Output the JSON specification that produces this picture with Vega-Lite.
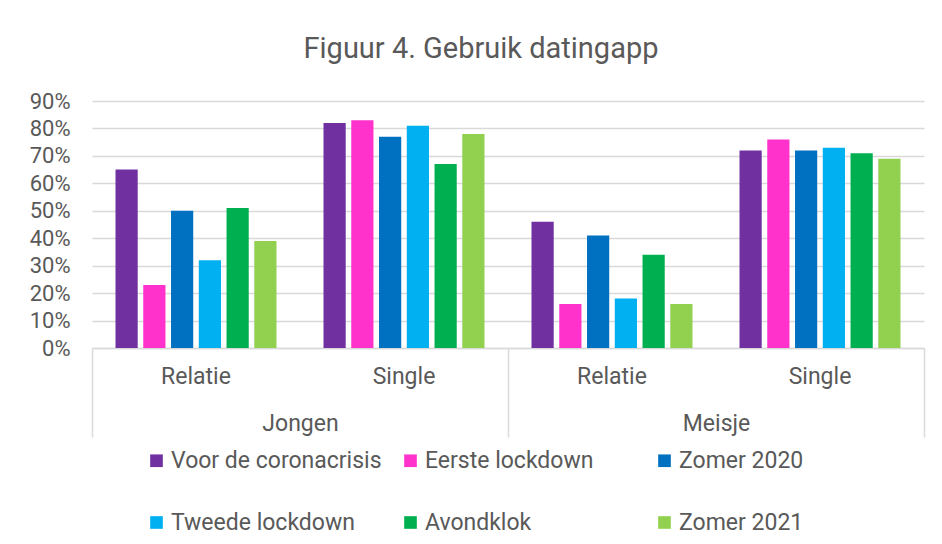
{
  "$schema": "https://vega.github.io/schema/vega-lite/v6.json",
  "width": 832,
  "height": 247,
  "autosize": {"type": "none"},
  "padding": {"left": 92, "top": 101, "right": 18, "bottom": 196},
  "background": "white",
  "config": {"font": "Roboto", "view": {"stroke": null}},
  "title": {"text": "Figuur 4. Gebruik datingapp", "fontSize": 29, "fontWeight": "normal", "color": "#595959", "anchor": "middle", "dx": -27, "offset": 26, "font": "Roboto"},
  "data": {"values": [
    {"cat": "Jongen|Relatie", "geslacht": "Jongen", "relatie": "Relatie", "periode": "Voor de coronacrisis", "waarde": 0.65},
    {"cat": "Jongen|Relatie", "geslacht": "Jongen", "relatie": "Relatie", "periode": "Eerste lockdown", "waarde": 0.23},
    {"cat": "Jongen|Relatie", "geslacht": "Jongen", "relatie": "Relatie", "periode": "Zomer 2020", "waarde": 0.50},
    {"cat": "Jongen|Relatie", "geslacht": "Jongen", "relatie": "Relatie", "periode": "Tweede lockdown", "waarde": 0.32},
    {"cat": "Jongen|Relatie", "geslacht": "Jongen", "relatie": "Relatie", "periode": "Avondklok", "waarde": 0.51},
    {"cat": "Jongen|Relatie", "geslacht": "Jongen", "relatie": "Relatie", "periode": "Zomer 2021", "waarde": 0.39},
    {"cat": "Jongen|Single", "geslacht": "Jongen", "relatie": "Single", "periode": "Voor de coronacrisis", "waarde": 0.82},
    {"cat": "Jongen|Single", "geslacht": "Jongen", "relatie": "Single", "periode": "Eerste lockdown", "waarde": 0.83},
    {"cat": "Jongen|Single", "geslacht": "Jongen", "relatie": "Single", "periode": "Zomer 2020", "waarde": 0.77},
    {"cat": "Jongen|Single", "geslacht": "Jongen", "relatie": "Single", "periode": "Tweede lockdown", "waarde": 0.81},
    {"cat": "Jongen|Single", "geslacht": "Jongen", "relatie": "Single", "periode": "Avondklok", "waarde": 0.67},
    {"cat": "Jongen|Single", "geslacht": "Jongen", "relatie": "Single", "periode": "Zomer 2021", "waarde": 0.78},
    {"cat": "Meisje|Relatie", "geslacht": "Meisje", "relatie": "Relatie", "periode": "Voor de coronacrisis", "waarde": 0.46},
    {"cat": "Meisje|Relatie", "geslacht": "Meisje", "relatie": "Relatie", "periode": "Eerste lockdown", "waarde": 0.16},
    {"cat": "Meisje|Relatie", "geslacht": "Meisje", "relatie": "Relatie", "periode": "Zomer 2020", "waarde": 0.41},
    {"cat": "Meisje|Relatie", "geslacht": "Meisje", "relatie": "Relatie", "periode": "Tweede lockdown", "waarde": 0.18},
    {"cat": "Meisje|Relatie", "geslacht": "Meisje", "relatie": "Relatie", "periode": "Avondklok", "waarde": 0.34},
    {"cat": "Meisje|Relatie", "geslacht": "Meisje", "relatie": "Relatie", "periode": "Zomer 2021", "waarde": 0.16},
    {"cat": "Meisje|Single", "geslacht": "Meisje", "relatie": "Single", "periode": "Voor de coronacrisis", "waarde": 0.72},
    {"cat": "Meisje|Single", "geslacht": "Meisje", "relatie": "Single", "periode": "Eerste lockdown", "waarde": 0.76},
    {"cat": "Meisje|Single", "geslacht": "Meisje", "relatie": "Single", "periode": "Zomer 2020", "waarde": 0.72},
    {"cat": "Meisje|Single", "geslacht": "Meisje", "relatie": "Single", "periode": "Tweede lockdown", "waarde": 0.73},
    {"cat": "Meisje|Single", "geslacht": "Meisje", "relatie": "Single", "periode": "Avondklok", "waarde": 0.71},
    {"cat": "Meisje|Single", "geslacht": "Meisje", "relatie": "Single", "periode": "Zomer 2021", "waarde": 0.69}
  ]},
  "layer": [
    {
      "mark": {"type": "bar"},
      "encoding": {
        "x": {"field": "cat", "type": "nominal", "sort": ["Jongen|Relatie", "Jongen|Single", "Meisje|Relatie", "Meisje|Single"],
          "scale": {"paddingInner": 0.226, "paddingOuter": 0.113},
          "axis": {"title": null, "labelExpr": "split(datum.label, '|')[1]", "ticks": false, "domainColor": "#d9d9d9", "domainWidth": 1.5, "labelFontSize": 23, "labelColor": "#595959", "labelPadding": 17, "labelAngle": 0}},
        "xOffset": {"field": "periode", "type": "nominal", "sort": ["Voor de coronacrisis", "Eerste lockdown", "Zomer 2020", "Tweede lockdown", "Avondklok", "Zomer 2021"], "scale": {"paddingInner": 0.2, "paddingOuter": 0}},
        "y": {"field": "waarde", "type": "quantitative", "scale": {"domain": [0, 0.9]},
          "axis": {"title": null, "format": ".0%", "values": [0, 0.1, 0.2, 0.3, 0.4, 0.5, 0.6, 0.7, 0.8, 0.9], "domain": false, "ticks": false, "gridColor": "#d9d9d9", "gridWidth": 1.5, "labelFontSize": 22, "labelColor": "#595959", "labelPadding": 22}},
        "color": {"field": "periode", "type": "nominal",
          "scale": {"domain": ["Voor de coronacrisis", "Eerste lockdown", "Zomer 2020", "Tweede lockdown", "Avondklok", "Zomer 2021"], "range": ["#7030A0", "#FF33CC", "#0070C0", "#00B0F0", "#00B050", "#92D050"]},
          "legend": {"orient": "none", "legendX": 53, "legendY": 348, "direction": "horizontal", "columns": 3, "title": null, "symbolType": "square", "symbolSize": 160, "symbolStrokeWidth": 0, "labelFontSize": 23, "labelColor": "#595959", "labelOffset": 3, "columnPadding": 17, "rowPadding": 38, "gridAlign": "all", "labelLimit": 400}}
      }
    },
    {
      "mark": {"type": "rule", "opacity": 0},
      "encoding": {
        "x": {"field": "geslacht", "type": "nominal", "scale": {"paddingInner": 0, "paddingOuter": 0},
          "axis": {"orient": "bottom", "title": null, "tickBand": "extent", "tickSize": 89, "tickColor": "#d9d9d9", "tickWidth": 1.5, "domain": false, "labelPadding": -25, "labelFontSize": 23, "labelColor": "#595959", "labelAngle": 0}}
      }
    }
  ],
  "resolve": {"scale": {"x": "independent"}, "axis": {"x": "independent"}}
}
